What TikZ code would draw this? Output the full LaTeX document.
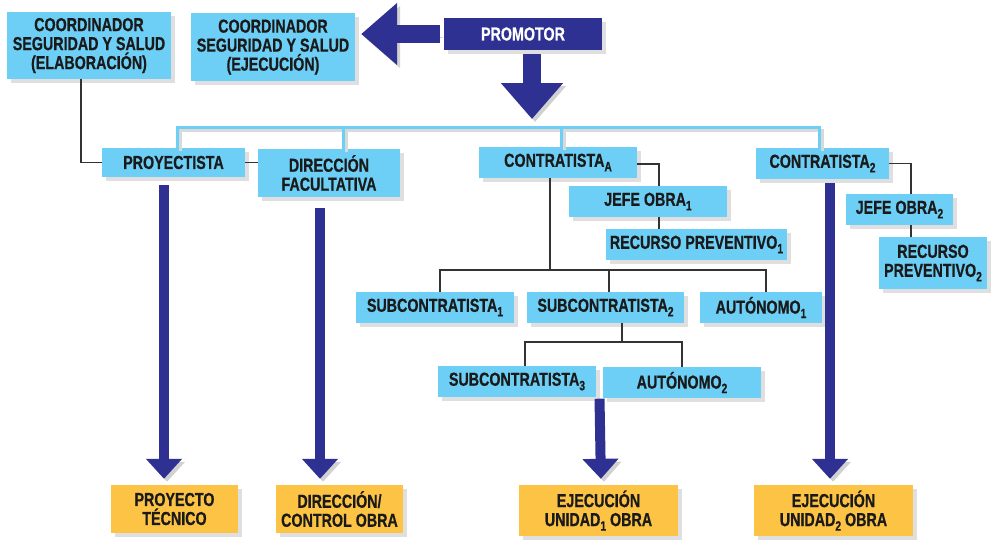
\documentclass[tikz,border=0pt]{standalone}
\usepackage{fontspec}
\setmainfont{Liberation Sans}[FakeStretch=0.76, BoldFeatures={FakeBold=0.6}]
\usetikzlibrary{arrows.meta,shadows,calc}
\definecolor{cyanbox}{HTML}{6DCFF6}
\definecolor{navy}{HTML}{2E3192}
\definecolor{gold}{HTML}{FDC345}
\definecolor{ink}{HTML}{1A1A1A}
\definecolor{wirec}{HTML}{333333}
\newcommand\subx[1]{\raisebox{-4.5pt}{\fontsize{13.5}{13.5}\selectfont #1}}
\begin{document}
\begin{tikzpicture}[x=1pt,y=-1pt,
 box/.style={fill=cyanbox, inner sep=0pt, align=center, text=ink,
   font=\fontsize{18.8}{19}\selectfont\bfseries,
   drop shadow={shadow xshift=4pt, shadow yshift=-4pt, opacity=0.25}},
 goldbox/.style={box, fill=gold},
 navybox/.style={box, fill=navy, text=white},
 sz/.style 2 args={minimum width=#1pt, minimum height=#2pt},
 wire/.style={draw=wirec, line width=1.3pt},
 bus/.style={draw=cyanbox, line width=3pt,
   preaction={draw=black!15, line width=3pt, transform canvas={xshift=3pt,yshift=-3pt}}},
 bigarr/.style={draw=navy, line width=10pt, -{Triangle[width=35pt,length=20pt]},
   preaction={draw=black!18, transform canvas={xshift=3pt,yshift=-3pt}}},
 toparr/.style={draw=navy, line width=18pt, -{Triangle[width=60pt,length=36pt]},
   preaction={draw=black!18, transform canvas={xshift=3pt,yshift=-3pt}}},
]
\useasboundingbox (0,0) rectangle (993,539);

% nodes
\node[box, sz={164}{67}] (ce) at (89,45.5) {COORDINADOR\\SEGURIDAD Y SALUD\\(ELABORACIÓN)};
\node[box, sz={164}{68}] (cj) at (273,47) {COORDINADOR\\SEGURIDAD Y SALUD\\(EJECUCIÓN)};
\node[navybox, sz={158}{32}] (prom) at (523,34) {PROMOTOR};
\node[box, sz={143}{29}] (proy) at (173.5,162.5) {PROYECTISTA};
\node[box, sz={142}{48}] (df) at (329,173) {DIRECCIÓN\\FACULTATIVA};
\node[box, sz={158}{31}] (ca) at (558,162.5) {CONTRATISTA\subx{A}};
\node[box, sz={158}{31}] (jo1) at (648,201.5) {JEFE OBRA\subx{1}};
\node[box, sz={181}{31}] (rp1) at (696.5,244.5) {RECURSO PREVENTIVO\subx{1}};
\node[box, sz={133}{31}] (c2) at (822.5,163.5) {CONTRATISTA\subx{2}};
\node[box, sz={107}{31}] (jo2) at (899.5,209.5) {JEFE OBRA\subx{2}};
\node[box, sz={108}{52}] (rp2) at (933,263) {RECURSO\\PREVENTIVO\subx{2}};
\node[box, sz={158}{31}] (s1) at (435,307.5) {SUBCONTRATISTA\subx{1}};
\node[box, sz={157}{31}] (s2) at (605.5,307.5) {SUBCONTRATISTA\subx{2}};
\node[box, sz={122}{31}] (a1) at (761,307.5) {AUTÓNOMO\subx{1}};
\node[box, sz={158}{31}] (s3) at (517,381.5) {SUBCONTRATISTA\subx{3}};
\node[box, sz={158}{31}] (a2) at (682,382.5) {AUTÓNOMO\subx{2}};
\node[goldbox, sz={127}{48}] (pt) at (174.5,509) {PROYECTO\\TÉCNICO};
\node[goldbox, sz={127}{48}] (dc) at (339.5,509) {DIRECCIÓN/\\CONTROL OBRA};
\node[goldbox, sz={159}{51}] (e1) at (598.5,510.5) {EJECUCIÓN\\UNIDAD\subx{1} OBRA};
\node[goldbox, sz={159}{51}] (e2) at (833.5,510.5) {EJECUCIÓN\\UNIDAD\subx{2} OBRA};

% helper coordinates
\coordinate (busy) at (0,127);
\coordinate (h1) at (550,270);
\coordinate (h2) at (622,342);

% bus
\draw[bus] ([xshift=3.5pt]proy.north) |- ([xshift=-3.5pt]c2.north |- busy) -- ([xshift=-3.5pt]c2.north);
\draw[bus] ([xshift=14pt]df.north) -- ([xshift=14pt]df.north |- busy);
\draw[bus] ([xshift=3pt]ca.north) -- ([xshift=3pt]ca.north |- busy);

% wires
\draw[wire] ([xshift=-8pt]ce.south) |- (proy.west);
\draw[wire] (proy.east) -- (proy.east -| df.west);
\draw[wire] ([yshift=-1.5pt]ca.east) -| ([xshift=11pt]jo1.north);
\draw[wire] ([xshift=11pt]jo1.south) -- ([xshift=11pt]jo1.south |- rp1.north);
\draw[wire] ([xshift=-8pt]ca.south) -- (h1);
\draw[wire] ([xshift=5pt]s1.north) |- (h1);
\draw[wire] ([xshift=5pt]a1.north) |- (h1);
\draw[wire] ([xshift=3.5pt]s2.north) -- ([xshift=3.5pt]s2.north |- h1);
\draw[wire] ([xshift=16.5pt]s2.south) -- (h2);
\draw[wire] ([xshift=8pt]s3.north) |- (h2);
\draw[wire] (a2.north) |- (h2);
\draw[wire] (c2.east) -| ([xshift=11.5pt]jo2.north);
\draw[wire] ([xshift=11.5pt]jo2.south) -- ([xshift=11.5pt]jo2.south |- rp2.north);

% big arrows
\draw[toparr, shorten <=4pt, shorten >=6pt] (prom.west) -- (prom.west -| cj.east);
\draw[toparr, shorten <=4pt, shorten >=8pt] ([xshift=9pt]prom.south) -- ([xshift=9pt]prom.south |- busy);
\draw[bigarr, shorten <=8pt, shorten >=6pt] ([xshift=-9.5pt]proy.south) -- ([xshift=-10.5pt]pt.north);
\draw[bigarr, shorten <=11pt, shorten >=6pt] ([xshift=-9pt]df.south) -- ([xshift=-19.5pt]dc.north);
\draw[bigarr, shorten <=4pt, shorten >=6pt] ([xshift=7.5pt]c2.south) -- ([xshift=-3.5pt]e2.north);
\draw[bigarr, shorten <=1pt, shorten >=6pt] ($(s3.south east)!0.5!(a2.south west)$) -- ([xshift=2.5pt]e1.north);
\end{tikzpicture}
\end{document}
